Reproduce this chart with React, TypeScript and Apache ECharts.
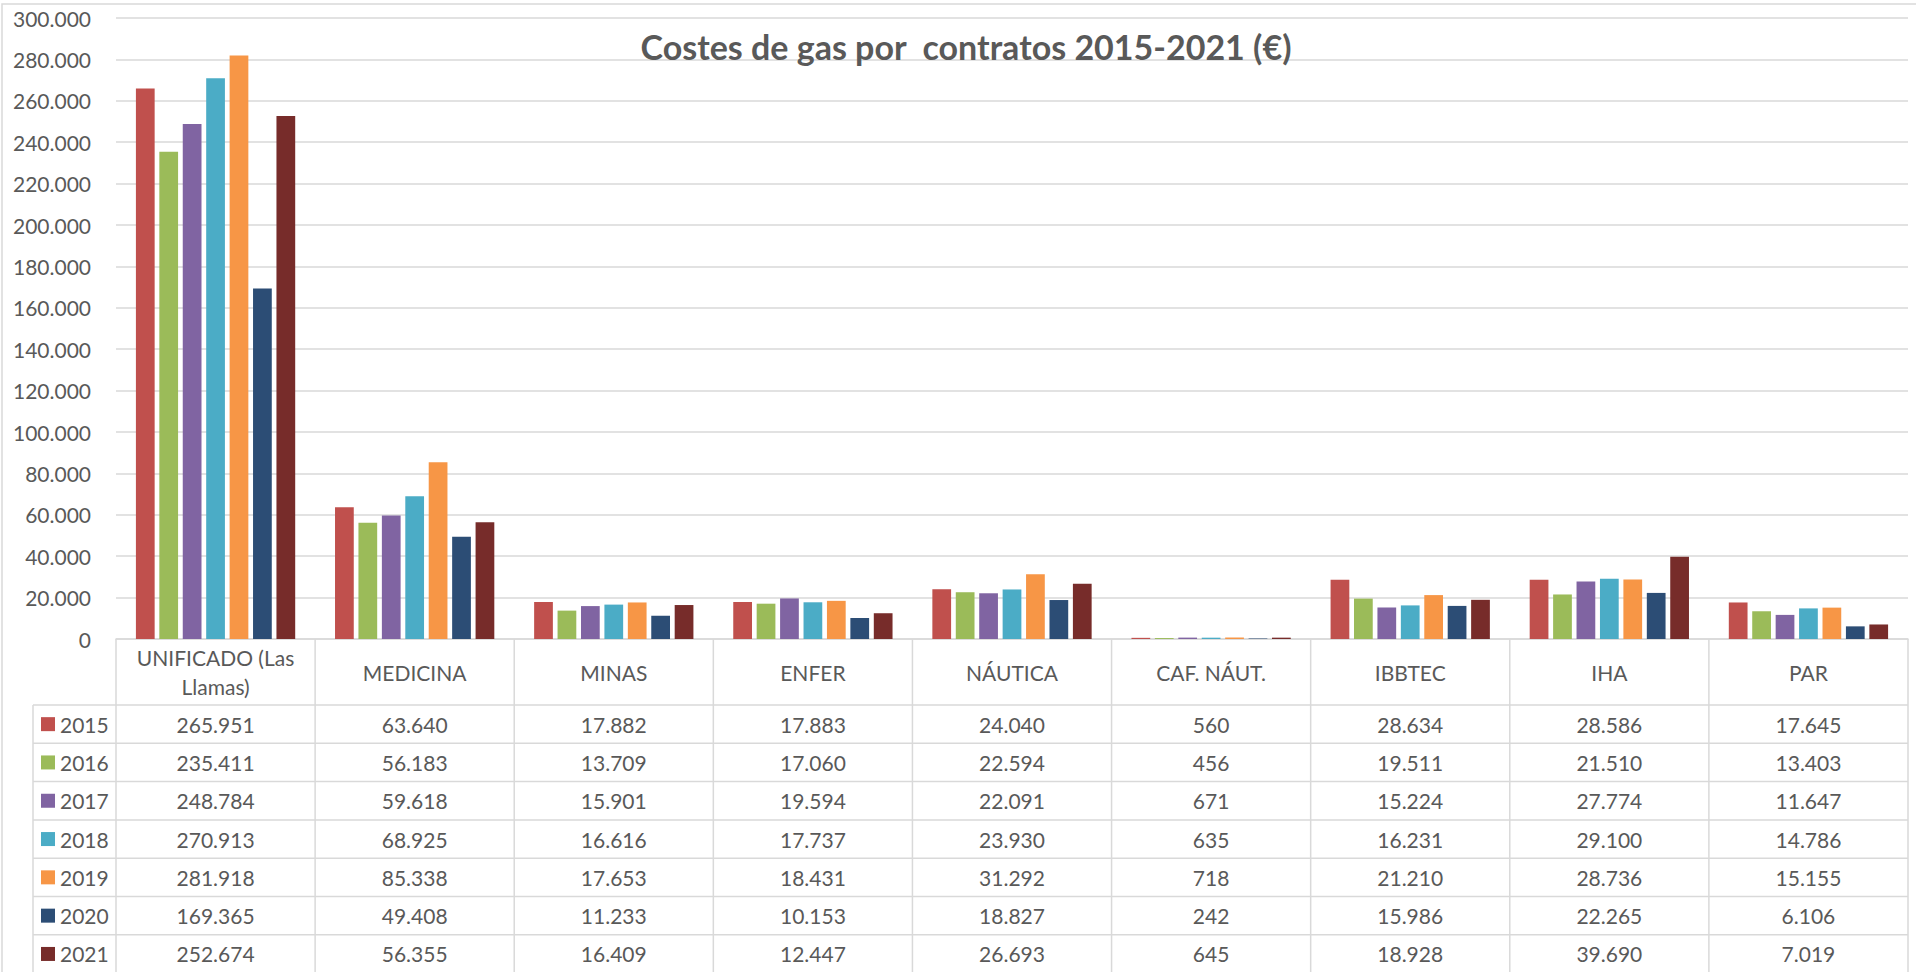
import React, { useEffect, useRef } from 'react';
import * as echarts from 'echarts';

const categories = ['UNIFICADO (Las Llamas)', 'MEDICINA', 'MINAS', 'ENFER', 'NÁUTICA', 'CAF. NÁUT.', 'IBBTEC', 'IHA', 'PAR'];
const headerLabels = ['UNIFICADO (Las\nLlamas)', 'MEDICINA', 'MINAS', 'ENFER', 'NÁUTICA', 'CAF. NÁUT.', 'IBBTEC', 'IHA', 'PAR'];
const years = ['2015', '2016', '2017', '2018', '2019', '2020', '2021'];

const v2015 = [265951, 63640, 17882, 17883, 24040, 560, 28634, 28586, 17645];
const v2016 = [235411, 56183, 13709, 17060, 22594, 456, 19511, 21510, 13403];
const v2017 = [248784, 59618, 15901, 19594, 22091, 671, 15224, 27774, 11647];
const v2018 = [270913, 68925, 16616, 17737, 23930, 635, 16231, 29100, 14786];
const v2019 = [281918, 85338, 17653, 18431, 31292, 718, 21210, 28736, 15155];
const v2020 = [169365, 49408, 11233, 10153, 18827, 242, 15986, 22265, 6106];
const v2021 = [252674, 56355, 16409, 12447, 26693, 645, 18928, 39690, 7019];
const seriesValues = [v2015, v2016, v2017, v2018, v2019, v2020, v2021];

const colors = ['#C0504D', '#9BBB59', '#8064A2', '#4BACC6', '#F79646', '#2C4D75', '#772C2A'];

const TITLE = 'Costes de gas por  contratos 2015-2021 (€)';
const FONT = 'Lato, "Noto Sans", sans-serif';
const TEXT = '#595959';
const LINE = '#D9D9D9';

function fmt(v: number): string {
  const s = Math.round(v).toString();
  return s.replace(/\B(?=(\d{3})+(?!\d))/g, '.');
}

export default function App() {
  const ref = useRef<HTMLDivElement>(null);
  useEffect(() => {
    document.body.style.margin = '0';
    const chart = echarts.init(ref.current!, undefined, { renderer: 'svg' });
    const option: any = {
      animation: false,
      backgroundColor: '#ffffff',
      grid: { left: 116, right: 8, top: 18, bottom: 333, containLabel: false },
      xAxis: {
        type: 'category',
        data: categories,
        axisLabel: { show: false },
        axisTick: { show: false },
        axisLine: { show: true, lineStyle: { color: LINE, width: 1.5 } },
      },
      yAxis: {
        type: 'value',
        min: 0,
        max: 300000,
        interval: 20000,
        axisLine: { show: false },
        axisTick: { show: false },
        axisLabel: { formatter: (v: number) => fmt(v), color: TEXT, fontSize: 21, fontFamily: FONT, margin: 25 },
        splitLine: { lineStyle: { color: LINE, width: 1.5 } },
      },
      series: years.map((y, i) => ({
        name: y,
        type: 'bar',
        data: seriesValues[i],
        barGap: '25%',
        barCategoryGap: '20%',
        itemStyle: { color: colors[i] },
      })),
    };
    chart.setOption(option);

    const cx = (i: number) => chart.convertToPixel({ xAxisIndex: 0 }, i) as number;
    const band = cx(1) - cx(0);
    const xs: number[] = [];
    for (let i = 0; i < categories.length; i++) xs.push(cx(i) - band / 2);
    xs.push(cx(categories.length - 1) + band / 2);
    const headerTop = chart.convertToPixel({ yAxisIndex: 0 }, 0) as number;
    const headerH = 66;
    const headerBottom = headerTop + headerH;
    const rowH = 38.3;
    const legendLeft = 33;
    const bottom = 1000;

    const g: any[] = [];
    const line = (x1: number, y1: number, x2: number, y2: number) => ({
      type: 'line', silent: true, z: 1,
      shape: { x1, y1, x2, y2 },
      style: { stroke: LINE, lineWidth: 1.5 },
    });
    g.push({ type: 'rect', silent: true, z: 0, shape: { x: 2, y: 4, width: 1940, height: 1000 }, style: { fill: 'none', stroke: LINE, lineWidth: 1.5 } });
    g.push({
      type: 'text', z: 5, x: 966, y: 46,
      style: { text: TITLE, fill: TEXT, font: `bold 34px ${FONT}`, align: 'center', verticalAlign: 'middle', textAlign: 'center', textVerticalAlign: 'middle' },
    });
    for (let i = 0; i < xs.length; i++) g.push(line(xs[i], headerTop, xs[i], bottom));
    g.push(line(legendLeft, headerBottom, legendLeft, bottom));
    for (let r = 0; r <= years.length; r++) {
      const y = headerBottom + r * rowH;
      g.push(line(legendLeft, y, xs[xs.length - 1], y));
    }
    headerLabels.forEach((lab, i) => {
      g.push({
        type: 'text', z: 5, x: cx(i), y: headerTop + headerH / 2,
        style: { text: lab, fill: TEXT, font: `21px ${FONT}`, lineHeight: 29, align: 'center', verticalAlign: 'middle', textAlign: 'center', textVerticalAlign: 'middle' },
      });
    });
    years.forEach((yr, r) => {
      const yc = headerBottom + rowH * (r + 0.5);
      g.push({ type: 'rect', silent: true, z: 5, shape: { x: 41, y: yc - 7, width: 14, height: 14 }, style: { fill: colors[r] } });
      g.push({
        type: 'text', z: 5, x: 60, y: yc,
        style: { text: yr, fill: TEXT, font: `21px ${FONT}`, align: 'left', verticalAlign: 'middle', textAlign: 'left', textVerticalAlign: 'middle' },
      });
      seriesValues[r].forEach((v, i) => {
        g.push({
          type: 'text', z: 5, x: cx(i), y: yc,
          style: { text: fmt(v), fill: TEXT, font: `21px ${FONT}`, align: 'center', verticalAlign: 'middle', textAlign: 'center', textVerticalAlign: 'middle' },
        });
      });
    });
    chart.setOption({ graphic: g });
    return () => chart.dispose();
  }, []);
  return <div ref={ref} style={{ position: 'absolute', left: 0, top: 0, width: 1916, height: 972, background: '#fff' }} />;
}
